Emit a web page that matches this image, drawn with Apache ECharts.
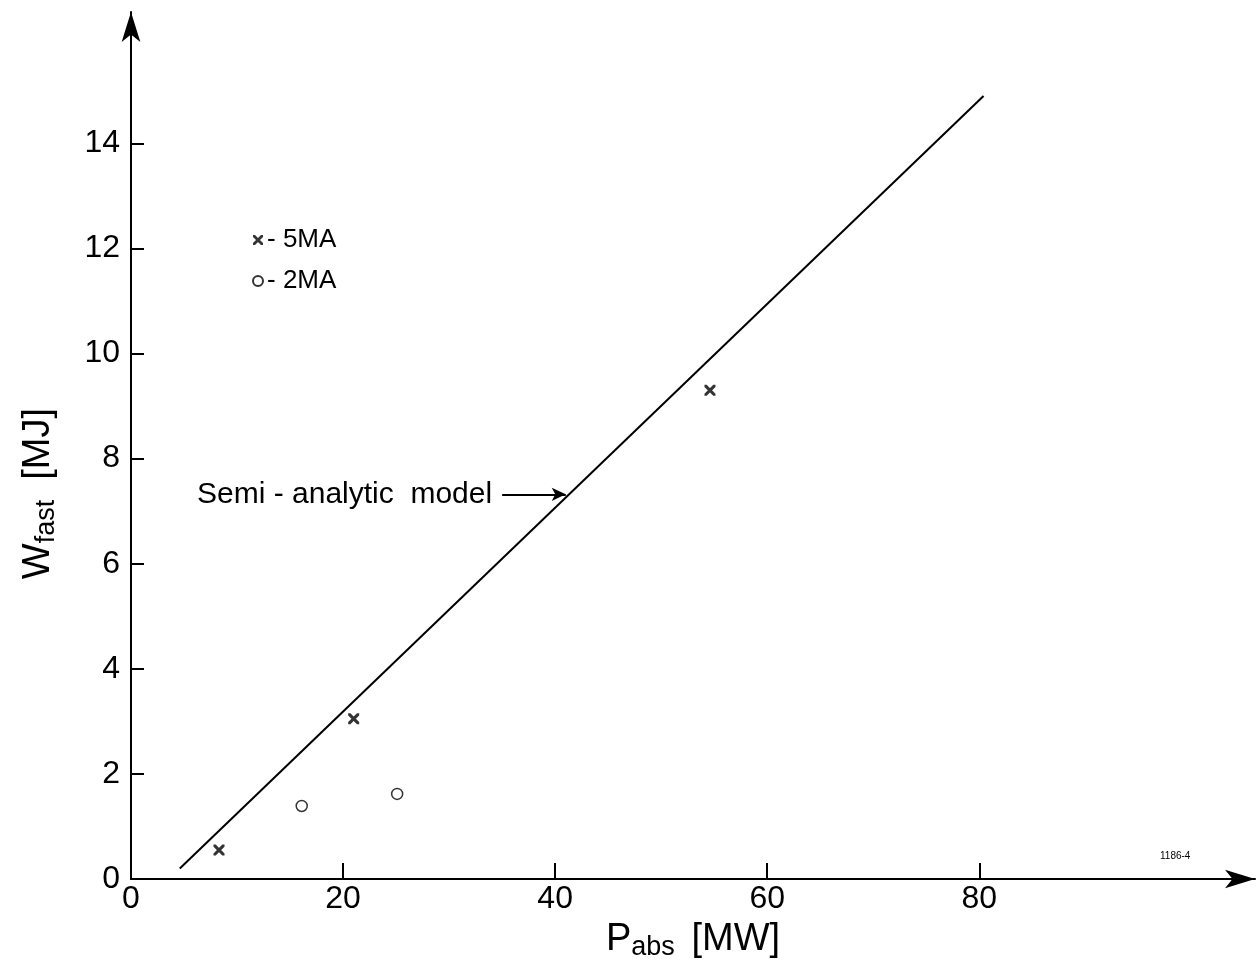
<!DOCTYPE html>
<html><head><meta charset="utf-8">
<script src="https://cdn.jsdelivr.net/npm/echarts@6/dist/echarts.min.js"></script>
<style>html,body{margin:0;padding:0;background:#fff}#c{width:1260px;height:965px}</style>
</head><body><div id="c"></div>
<script>
const xTicks = [20, 40, 60, 80];
const xLabels = [0, 20, 40, 60, 80];
const yTicks = [0, 2, 4, 6, 8, 10, 12, 14];
const series5MA = [[8.3, 0.55], [21.0, 3.05], [54.6, 9.3]];
const series2MA = [[16.1, 1.39], [25.1, 1.62]];
const modelLine = [[4.6, 0.2], [80.4, 14.9]];
const arrowFrom = [35.0, 7.32];
const arrowTo = [41.0, 7.32];

const FONT = 'Liberation Sans';
const chart = echarts.init(document.getElementById('c'));
const crossPath = 'path://M0,0L2,0L10,8L10,10L8,10L0,2ZM8,0L10,0L10,2L2,10L0,10L0,8Z';
chart.setOption({
  backgroundColor: '#fff',
  animation: false,
  textStyle: { fontFamily: FONT, color: '#000' },
  grid: { left: 131, right: 5, top: 12, bottom: 86, containLabel: false, outerBoundsMode: 'none' },
  legend: {
    left: 247, top: 222, orient: 'vertical', itemGap: 15,
    itemWidth: 10, itemHeight: 10,
    textStyle: { fontFamily: FONT, fontSize: 26, color: '#000', padding: [0, 0, 0, -1] },
    formatter: n => '- ' + n,
    data: [
      { name: '5MA', icon: crossPath, itemStyle: { color: '#000' } },
      { name: '2MA', icon: 'emptyCircle', itemStyle: { color: '#000', borderColor: '#000', borderWidth: 1.5 } }
    ]
  },
  xAxis: {
    type: 'value', min: 0, max: 106, interval: 20,
    splitLine: { show: false },
    axisLine: { lineStyle: { color: '#000', width: 2 }, symbol: ['none', 'arrow'], symbolSize: [14, 30] },
    axisTick: { inside: true, length: 16, lineStyle: { color: '#000', width: 2 }, customValues: xTicks },
    axisLabel: { customValues: xLabels, fontSize: 32, color: '#000', fontFamily: FONT, margin: 4, formatter: v => String(v) },
    name: '{a|P}{s|abs}     {a|[MW]}',
    nameLocation: 'middle', nameGap: 39,
    nameTextStyle: {
      rich: {
        a: { fontSize: 38, fontFamily: FONT, color: '#000' },
        s: { fontSize: 27, fontFamily: FONT, color: '#000', verticalAlign: 'bottom', padding: [16, 0, 0, 0] }
      }
    }
  },
  yAxis: {
    type: 'value', min: 0, max: 16.5, interval: 2,
    splitLine: { show: false },
    axisLine: { lineStyle: { color: '#000', width: 2 }, symbol: ['none', 'arrow'], symbolSize: [14, 30] },
    axisTick: { inside: true, length: 13, lineStyle: { color: '#000', width: 2 }, customValues: yTicks },
    axisLabel: { customValues: yTicks, fontSize: 32, color: '#000', fontFamily: FONT, margin: 11 }
  },
  graphic: [
    {
      type: 'text', left: 20, top: 408,
      rotation: Math.PI / 2,
      style: {
        text: '{a|W}{s|fast}      {a|[MJ]}',
        rich: {
          a: { fontSize: 38, fontFamily: FONT, fill: '#000' },
          s: { fontSize: 27, fontFamily: FONT, fill: '#000', verticalAlign: 'bottom', padding: [16, 0, 0, 0] }
        }
      }
    },
    { type: 'text', left: 1160, top: 851, style: { text: '1186-4', fontSize: 10, fontFamily: FONT, fill: '#000' } }
  ],
  series: [
    {
      name: 'model', type: 'line', data: modelLine, symbol: 'none',
      lineStyle: { color: '#000', width: 2 },
      markLine: {
        silent: true, symbol: ['none', 'arrow'], symbolSize: [10, 14],
        lineStyle: { color: '#000', width: 2, type: 'solid' },
        label: { show: true, position: 'start', formatter: 'Semi - analytic  model', fontSize: 30, fontFamily: FONT, color: '#000', distance: 10 },
        data: [[{ coord: arrowFrom }, { coord: arrowTo }]]
      }
    },
    {
      name: '5MA', type: 'scatter', data: series5MA, symbol: crossPath, symbolSize: 11,
      itemStyle: { color: '#000' }
    },
    {
      name: '2MA', type: 'scatter', data: series2MA, symbol: 'circle', symbolSize: 11,
      itemStyle: { color: '#fff', borderColor: '#000', borderWidth: 1.5 }
    }
  ]
});
</script></body></html>
